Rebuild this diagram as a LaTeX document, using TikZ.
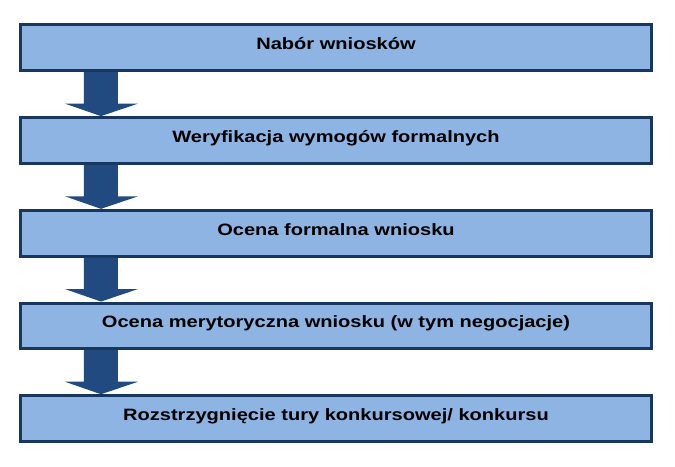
\documentclass[tikz,border=0pt]{standalone}
\usepackage{fontspec}
\newfontfamily\stagefont{Liberation Sans}[FakeStretch=1.22]
\usetikzlibrary{positioning,calc}
\definecolor{stagefill}{RGB}{141,180,226}
\definecolor{stageline}{RGB}{23,55,94}
\definecolor{flowfill}{RGB}{33,75,128}
\tikzset{
  stage/.style={draw=stageline,fill=stagefill,line width=3bp,
    minimum width=630bp,minimum height=45.7bp,inner sep=0pt,
    text height=10bp,text depth=6bp,
    font=\stagefont\bfseries\fontsize{16.5}{19}\selectfont},
}
\begin{document}
\begin{tikzpicture}[x=1bp,y=1bp,node distance=44bp]
\useasboundingbox (0,0) rectangle (675,467);
%%
\node (stage_1) at (336,419.2) [stage] {Nabór wniosków};
  \node (stage_2) [stage,below=of stage_1] {Weryfikacja wymogów formalnych};
  \node (stage_3) [stage,below=of stage_2] {Ocena formalna wniosku};
  \node (stage_4) [stage,below=of stage_3] {Ocena merytoryczna wniosku (w tym negocjacje)};
  \node (stage_5) [stage,below=of stage_4] {Rozstrzygnięcie tury konkursowej/ konkursu};
%
\foreach \a/\b in {1/2,2/3,3/4,4/5}
  \fill [flowfill] ($(stage_\a.south west)+(64.5,0)$) -- ($(stage_\a.south west)+(98.5,0)$)
    -- ($(stage_\b.north west)+(98.5,12.5)$) -- ($(stage_\b.north west)+(118.5,12.5)$)
    -- ($(stage_\b.north west)+(81.5,0)$) -- ($(stage_\b.north west)+(45.5,12.5)$)
    -- ($(stage_\b.north west)+(64.5,12.5)$) -- cycle;
%
\end{tikzpicture}
\end{document}
